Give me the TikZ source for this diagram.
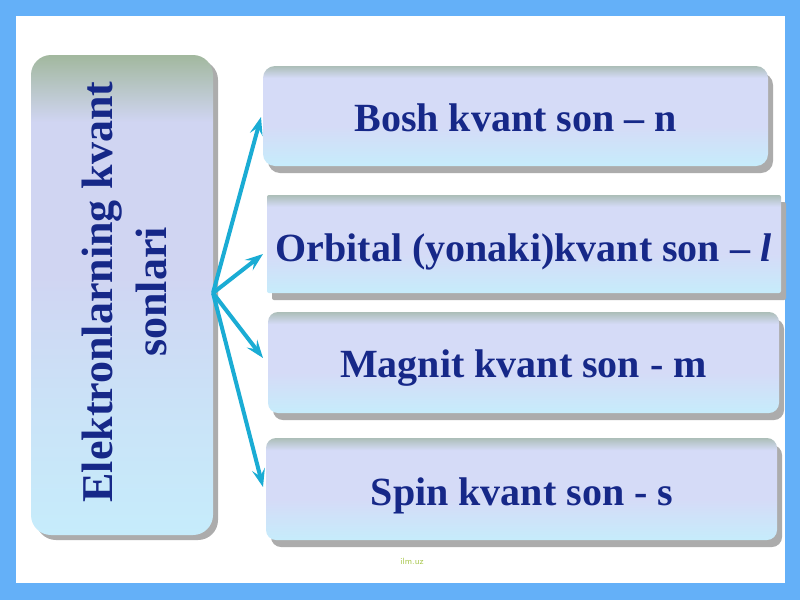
\documentclass[tikz,border=0pt]{standalone}
\usepackage{fontspec}
\setmainfont{Liberation Serif}
\usetikzlibrary{arrows.meta,shadows}
\definecolor{bord}{RGB}{100,176,248}
\definecolor{txtblue}{RGB}{22,40,136}
\definecolor{arrc}{RGB}{26,172,212}
\definecolor{cyl}{RGB}{198,236,251}
\definecolor{lav}{RGB}{213,219,247}
\definecolor{grg}{RGB}{172,190,184}
\definecolor{lgrg}{RGB}{162,184,158}
\definecolor{llav}{RGB}{208,213,242}
\definecolor{shd}{RGB}{172,172,172}
\definecolor{wm}{RGB}{170,200,80}
\pgfdeclareverticalshading{rshade}{100bp}{color(0bp)=(cyl); color(25bp)=(cyl); color(45bp)=(lav); color(69bp)=(lav); color(75bp)=(grg); color(100bp)=(grg)}
\pgfdeclareverticalshading{lshade}{100bp}{color(0bp)=(cyl); color(25bp)=(cyl); color(38bp)=(cyl!60!llav); color(52bp)=(llav); color(68bp)=(llav); color(75bp)=(lgrg); color(100bp)=(lgrg)}
\tikzset{
  rbox/.style={shading=rshade, draw=none, inner sep=0pt, rectangle,
    drop shadow={shadow xshift=5pt, shadow yshift=-7pt, fill=shd, opacity=1}},
  lbox/.style={shading=lshade, draw=none, inner sep=0pt, rectangle, rounded corners=20pt,
    drop shadow={shadow xshift=5pt, shadow yshift=-5pt, fill=shd, opacity=1}},
  rtxt/.style={anchor=base, inner sep=0pt, text=txtblue, font=\fontsize{40}{48}\selectfont\bfseries},
  ltxt/.style={anchor=base, inner sep=0pt, rotate=90, text=txtblue, font=\fontsize{44}{54}\selectfont\bfseries},
  arr/.style={draw=arrc, line width=4pt, -{Stealth[length=18pt,width=13pt,inset=7pt]}},
}
\begin{document}
\begin{tikzpicture}[x=1pt,y=-1pt]
\fill[bord] (0,0) rectangle (800,600);
\fill[white] (16,16) rectangle (785,583);
\useasboundingbox (0,0) rectangle (800,600);
% left box
\node[lbox, minimum width=182pt, minimum height=480pt] (L) at (122,295) {};
\node[ltxt] (l1) at (112,292) {Elektronlarning kvant};
\node[ltxt] (l2) at (166,292) {sonlari};
% right boxes
\node[rbox, rounded corners=12pt, minimum width=505pt, minimum height=100pt] (b1) at (515.5,116) {};
\node[rbox, rounded corners=2pt, minimum width=514pt, minimum height=98pt] (b2) at (524,244) {};
\node[rbox, rounded corners=10pt, minimum width=511pt, minimum height=101pt] (b3) at (523.5,362.5) {};
\node[rbox, rounded corners=10pt, minimum width=511pt, minimum height=102pt] (b4) at (521.5,489) {};
\node[rtxt] (t1) at (515.5,131) {Bosh kvant son – n};
\node[rtxt] (t2) at (523.5,261) {Orbital (yonaki)kvant son – \textit{l}};
\node[rtxt] (t3) at (523.5,377) {Magnit kvant son - m};
\node[rtxt] (t4) at (522,505) {Spin kvant son - s};
% arrows
\coordinate (hub) at (213,293);
\coordinate (a1) at (261,117);
\coordinate (a2) at (263,254);
\coordinate (a3) at (263,358);
\coordinate (a4) at (263,487);
\draw[arr] (hub) -- (a1);
\draw[arr] (hub) -- (a2);
\draw[arr] (hub) -- (a3);
\draw[arr] (hub) -- (a4);
\node[text=wm, font=\fontsize{9}{10}\selectfont\sffamily] (wmk) at (412,561) {ilm.uz};
\end{tikzpicture}
\end{document}
